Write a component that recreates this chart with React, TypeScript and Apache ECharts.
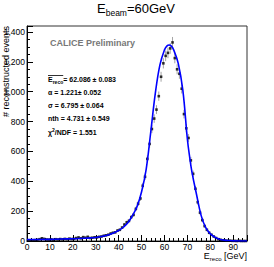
import React, { useEffect, useRef } from "react";
import * as echarts from "echarts";

const binCenters = [
  0.5, 1.5, 2.5, 3.5, 4.5, 5.5, 6.5, 7.5, 8.5, 9.5, 10.5, 11.5, 12.5, 13.5, 14.5, 15.5,
  16.5, 17.5, 18.5, 19.5, 20.5, 21.5, 22.5, 23.5, 24.5, 25.5, 26.5, 27.5, 28.5, 29.5, 30.5, 31.5,
  32.5, 33.5, 34.5, 35.5, 36.5, 37.5, 38.5, 39.5, 40.5, 41.5, 42.5, 43.5, 44.5, 45.5, 46.5, 47.5,
  48.5, 49.5, 50.5, 51.5, 52.5, 53.5, 54.5, 55.5, 56.5, 57.5, 58.5, 59.5, 60.5, 61.5, 62.5, 63.5,
  64.5, 65.5, 66.5, 67.5, 68.5, 69.5, 70.5, 71.5, 72.5, 73.5, 74.5, 75.5, 76.5, 77.5, 78.5, 79.5,
  80.5, 81.5, 82.5, 83.5, 84.5, 85.5, 86.5, 87.5, 88.5, 89.5, 90.5, 91.5, 92.5, 93.5, 94.5, 95.5,
];
const counts = [
  2, 5, 4, 6, 8, 12, 18, 14, 10, 9, 11, 8, 12, 10, 13, 11,
  14, 12, 16, 13, 15, 20, 24, 18, 26, 22, 28, 20, 22, 25, 24, 28,
  30, 35, 38, 42, 50, 55, 58, 70, 75, 90, 110, 125, 135, 160, 175, 215,
  250, 285, 370, 430, 550, 650, 750, 820, 880, 970, 1100, 1190, 1240, 1260, 1290, 1330,
  1225, 1150, 1120, 1020, 850, 755, 690, 540, 450, 350, 260, 190, 140, 100, 75, 55,
  42, 30, 20, 12, 8, 5, 3, 2, 2, 1, 1, 0, 1, 0, 0, 0,
];
const fitX = [0, 5, 10, 15, 20, 25, 30, 35, 38, 40, 42, 44, 46, 48, 50, 52, 54, 56, 58, 60, 61, 62, 63, 64, 66, 68, 70, 71, 72, 74, 76, 78, 80, 82, 84, 86, 88, 90, 93, 96];
const fitY = [10, 10, 11, 13, 15, 18, 23, 38, 55, 70, 92, 122, 170, 230, 330, 480, 730, 990, 1180, 1280, 1305, 1313, 1305, 1280, 1190, 1010, 680, 560, 460, 310, 170, 90, 48, 25, 12, 6, 3, 1, 0, 0];

const yMax = 1440;
const xMax = 96;
const FONT = "Liberation Sans, Arial, Helvetica, sans-serif";

type Piece = { t: string; size: number; dy: number; bold?: boolean };

function measure(ctx: CanvasRenderingContext2D | null, p: Piece) {
  if (!ctx) return p.t.length * p.size * 0.55;
  ctx.font = `${p.bold ? "bold " : ""}${p.size}px ${FONT}`;
  return ctx.measureText(p.t).width;
}

function compose(ctx: CanvasRenderingContext2D | null, pieces: Piece[], x: number, y: number, anchor: "left" | "center" | "right", fill = "#000") {
  const widths = pieces.map((p) => measure(ctx, p));
  const total = widths.reduce((a, b) => a + b, 0);
  let cx = anchor === "left" ? x : anchor === "center" ? x - total / 2 : x - total;
  const out: any[] = [];
  pieces.forEach((p, i) => {
    out.push({
      type: "text", x: cx, y: y + p.dy,
      style: { text: p.t, align: "left", verticalAlign: "middle", fontSize: p.size, fontWeight: p.bold ? "bold" : "normal", fontFamily: FONT, fill },
    });
    cx += widths[i];
  });
  return { els: out, widths };
}

export default function App() {
  const ref = useRef<HTMLDivElement>(null);
  useEffect(() => {
    if (!ref.current) return;
    const chart = echarts.init(ref.current, undefined, { renderer: "svg" });
    const cv = document.createElement("canvas");
    const ctx = cv.getContext("2d");
    const points = binCenters.map((x, i) => [x, counts[i]]);
    const errs = binCenters.map((x, i) => [x, counts[i], Math.sqrt(counts[i])]);
    const fit = fitX.map((x, i) => [x, fitY[i]]);

    const title = compose(ctx, [
      { t: "E", size: 13, dy: 0 },
      { t: "beam", size: 8.5, dy: 4.5 },
      { t: "=60GeV", size: 13, dy: 0 },
    ], 136, 8.5, "center");
    const xName = compose(ctx, [
      { t: "E", size: 9, dy: 0 },
      { t: "reco", size: 6, dy: 3 },
      { t: " [GeV]", size: 9, dy: 0 },
    ], 247, 256, "right");
    const stat1 = compose(ctx, [
      { t: "E", size: 7, dy: 0, bold: true },
      { t: "reco", size: 5, dy: 2.5, bold: true },
      { t: "= 62.086 ± 0.083", size: 7, dy: 0, bold: true },
    ], 48, 79.5, "left");
    const overEnd = 48 + stat1.widths[0] + stat1.widths[1];
    const chi = compose(ctx, [
      { t: "χ", size: 7, dy: 0, bold: true },
      { t: "2", size: 5, dy: -2.5, bold: true },
      { t: "/NDF = 1.551", size: 7, dy: 0, bold: true },
    ], 48, 132, "left");

    chart.setOption({
      animation: false,
      backgroundColor: "#fff",
      grid: { left: 27, right: 27, top: 26, bottom: 26, show: true, borderColor: "#333", borderWidth: 1, backgroundColor: "transparent" },
      xAxis: {
        type: "value", min: 0, max: xMax, interval: 10,
        axisLine: { show: true, lineStyle: { color: "#000", width: 1 } },
        axisTick: { inside: true, length: 6, lineStyle: { color: "#000" } },
        minorTick: { show: true, splitNumber: 5, length: 3, lineStyle: { color: "#000" } },
        axisLabel: { showMaxLabel: false, margin: 1, fontSize: 8.5, color: "#000", fontFamily: FONT },
        splitLine: { show: false },
      },
      yAxis: {
        type: "value", min: 0, max: yMax, interval: 200,
        axisLine: { show: true, lineStyle: { color: "#000", width: 1 } },
        axisTick: { inside: true, length: 6, lineStyle: { color: "#000" } },
        minorTick: { show: true, splitNumber: 4, length: 3, lineStyle: { color: "#000" } },
        axisLabel: { showMaxLabel: false, margin: 2, fontSize: 8.5, color: "#000", fontFamily: FONT },
        splitLine: { show: false },
      },
      series: [
        {
          type: "custom",
          clip: true,
          data: errs,
          renderItem: (params: any, api: any) => {
            const x = api.value(0), y = api.value(1), e = api.value(2);
            const p1 = api.coord([x, y - e]);
            const p2 = api.coord([x, y + e]);
            return { type: "line", shape: { x1: p1[0], y1: p1[1], x2: p2[0], y2: p2[1] }, style: { stroke: "#666", lineWidth: 0.6 } };
          },
          z: 2,
        },
        { type: "scatter", data: points, symbol: "rect", symbolSize: 2.6, itemStyle: { color: "#000" }, z: 3 },
        { type: "line", data: fit, smooth: 0.4, showSymbol: false, lineStyle: { color: "#0000ff", width: 1.6 }, z: 4 },
      ],
      graphic: [
        ...title.els,
        {
          type: "text", x: 6, y: 26, rotation: Math.PI / 2,
          style: { text: "# reconstructed events", align: "right", verticalAlign: "middle", fontSize: 9, fontFamily: FONT, fill: "#000" },
        },
        ...xName.els,
        {
          type: "text", x: 50, y: 43,
          style: { text: "CALICE Preliminary", align: "left", verticalAlign: "middle", fontSize: 9, fontWeight: "bold", fontFamily: FONT, fill: "#777" },
        },
        ...stat1.els,
        { type: "line", shape: { x1: 48, y1: 75.5, x2: overEnd, y2: 75.5 }, style: { stroke: "#000", lineWidth: 0.8 } },
        { type: "text", x: 48, y: 92.5, style: { text: "α = 1.221± 0.052", verticalAlign: "middle", fontSize: 7, fontWeight: "bold", fontFamily: FONT, fill: "#000" } },
        { type: "text", x: 48, y: 105.5, style: { text: "σ = 6.795 ± 0.064", verticalAlign: "middle", fontSize: 7, fontWeight: "bold", fontFamily: FONT, fill: "#000" } },
        { type: "text", x: 48, y: 118.5, style: { text: "nth = 4.731 ± 0.549", verticalAlign: "middle", fontSize: 7, fontWeight: "bold", fontFamily: FONT, fill: "#000" } },
        ...chi.els,
      ],
    });
    return () => chart.dispose();
  }, []);
  return <div ref={ref} style={{ position: "fixed", left: 0, top: 0, width: 274, height: 267 }} />;
}
